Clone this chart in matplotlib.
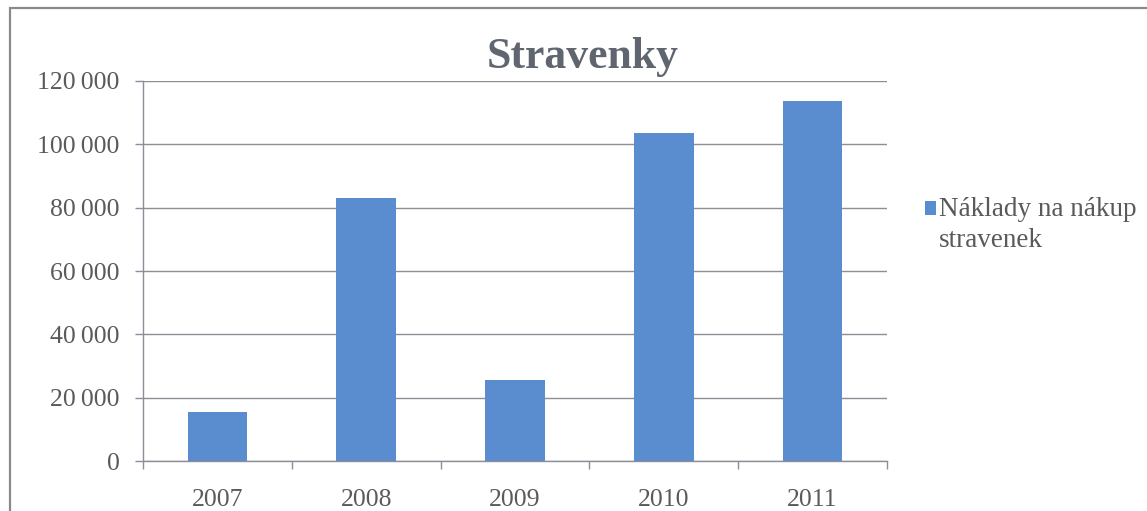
import matplotlib

matplotlib.use("Agg")
import matplotlib.pyplot as plt
from matplotlib.patches import Rectangle
from matplotlib.ticker import FixedLocator, FuncFormatter, MultipleLocator

# costs of meal vouchers per year (CZK)
years = ["2007", "2008", "2009", "2010", "2011"]
costs = [15600, 83000, 25700, 103700, 113600]
series_label = "Náklady na nákup\nstravenek"
title = "Stravenky"

BAR = "#5a8dd0"
TXT = "#5a5a5a"
GRID = "#8e8e96"

plt.rcParams["font.family"] = ["Liberation Serif", "DejaVu Serif"]

fig = plt.figure(figsize=(11.47, 5.11), dpi=100)
ax = fig.add_axes([0.1247, 0.0978, 0.6486, 0.7437])

x = range(len(years))
ax.bar(x, costs, width=0.4, color=BAR, label=series_label, zorder=3)

ax.set_xlim(-0.5, len(years) - 0.5)
ax.set_ylim(0, 120000)
ax.yaxis.set_major_locator(MultipleLocator(20000))
ax.yaxis.set_major_formatter(
    FuncFormatter(lambda v, _: f"{v:,.0f}".replace(",", "\u2009")))
ax.grid(True, axis="y", color=GRID, linewidth=1.0, zorder=0)

# year labels centred under bars, tick marks on category boundaries
ax.set_xticks(list(x))
ax.set_xticklabels(years)
ax.xaxis.set_minor_locator(FixedLocator([i - 0.5 for i in range(len(years) + 1)]))
ax.tick_params(axis="x", which="major", length=0, pad=20, labelsize=18.5, colors=TXT)
ax.tick_params(axis="x", which="minor", length=6, width=1, color=GRID, direction="out")
ax.tick_params(axis="y", length=6, width=1, color=GRID, pad=11, labelsize=18.5,
               labelcolor=TXT)

for side in ("top", "right"):
    ax.spines[side].set_visible(False)
for side in ("left", "bottom"):
    ax.spines[side].set_color(GRID)
    ax.spines[side].set_linewidth(1.0)

fig.suptitle(title, x=0.508, y=0.927, fontsize=31.5, fontweight="bold",
             color="#5f6670")

leg = ax.legend(loc="upper left", bbox_to_anchor=(0.797, 0.636),
                bbox_transform=fig.transFigure, frameon=False,
                handlelength=0.4, handleheight=0.4, handletextpad=0.1,
                fontsize=19.5, borderaxespad=0)
for t in leg.get_texts():
    t.set_color(TXT)
    t.set_linespacing(1.3)
# square key sits beside the first line, not the middle of the two lines
key = leg.legend_handles[0]
key.set_y(key.get_y() + 12)

# scanned chart frame: only left and top edges fall inside the image
fig.add_artist(Rectangle((10 / 1147, -0.1), 1.2, 1.1 - 8 / 511,
                         transform=fig.transFigure, fill=False,
                         edgecolor="#8a8a8a", linewidth=1.6))

fig.savefig("out.png", dpi=100)
plt.close(fig)
